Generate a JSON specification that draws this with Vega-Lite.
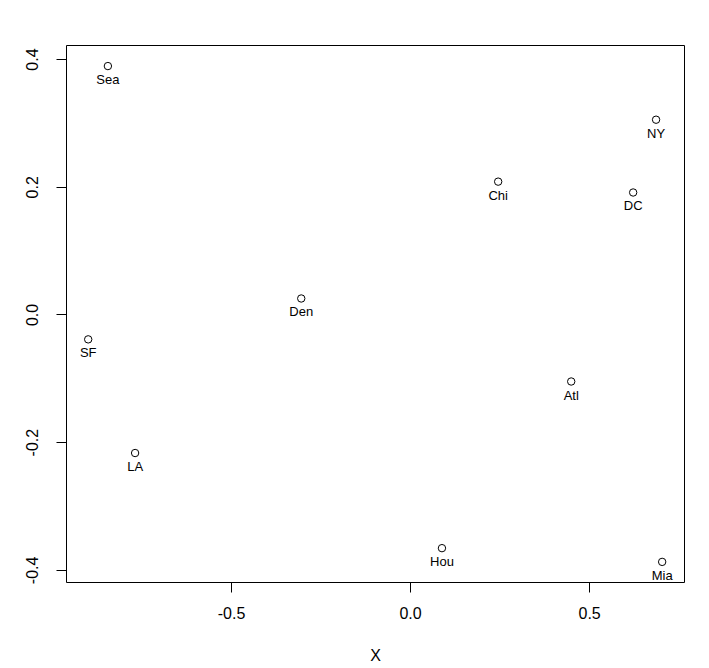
{
  "$schema": "https://vega.github.io/schema/vega-lite/v6.json",
  "width": 618,
  "height": 537,
  "autosize": "none",
  "padding": {"left": 66, "top": 45, "right": 25, "bottom": 86},
  "background": "white",
  "config": {
    "view": {"stroke": "black", "strokeWidth": 1},
    "font": "Liberation Sans",
    "axis": {
      "domain": false,
      "grid": false,
      "ticks": true,
      "tickColor": "black",
      "tickSize": 10,
      "labelFont": "Liberation Sans",
      "labelFontSize": 16,
      "labelColor": "black",
      "titleFont": "Liberation Sans",
      "titleFontSize": 16,
      "titleFontWeight": "normal",
      "titleColor": "black"
    }
  },
  "data": {
    "values": [
      {"city": "Sea", "x": -0.844, "y": 0.389},
      {"city": "NY", "x": 0.687, "y": 0.305},
      {"city": "Chi", "x": 0.246, "y": 0.208},
      {"city": "DC", "x": 0.623, "y": 0.191},
      {"city": "Den", "x": -0.304, "y": 0.025},
      {"city": "SF", "x": -0.899, "y": -0.039},
      {"city": "Atl", "x": 0.450, "y": -0.105},
      {"city": "LA", "x": -0.768, "y": -0.217},
      {"city": "Hou", "x": 0.089, "y": -0.366},
      {"city": "Mia", "x": 0.704, "y": -0.3875}
    ]
  },
  "encoding": {
    "x": {
      "field": "x",
      "type": "quantitative",
      "scale": {"domain": [-0.961, 0.765], "nice": false, "zero": false},
      "axis": {
        "title": "X",
        "values": [-0.5, 0, 0.5],
        "labelExpr": "datum.value < 0 ? '-' + format(-datum.value, '.1f') : format(datum.value, '.1f')",
        "labelPadding": 13,
        "titlePadding": 26
      }
    },
    "y": {
      "field": "y",
      "type": "quantitative",
      "scale": {"domain": [-0.419, 0.422], "nice": false, "zero": false},
      "axis": {
        "title": null,
        "values": [-0.4, -0.2, 0, 0.2, 0.4],
        "labelExpr": "datum.value < 0 ? '-' + format(-datum.value, '.1f') : format(datum.value, '.1f')",
        "labelAngle": -90,
        "labelAlign": "center",
        "labelBaseline": "bottom",
        "labelPadding": 16
      }
    }
  },
  "layer": [
    {
      "mark": {"type": "point", "shape": "circle", "filled": false, "stroke": "black", "strokeWidth": 1, "size": 55, "opacity": 1}
    },
    {
      "mark": {"type": "text", "baseline": "top", "align": "center", "dy": 8, "fontSize": 13, "font": "Liberation Sans", "color": "black"},
      "encoding": {"text": {"field": "city", "type": "nominal"}}
    }
  ]
}
